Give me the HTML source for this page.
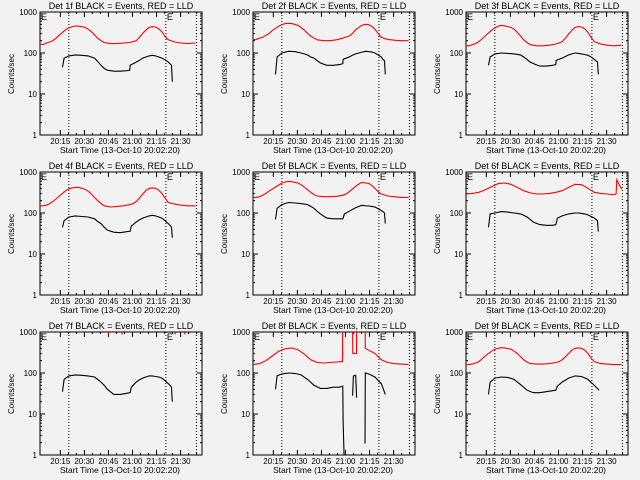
<!DOCTYPE html>
<html><head><meta charset="utf-8"><style>
html,body{margin:0;padding:0;background:#f2f2f2;}
svg{display:block;font-family:"Liberation Sans",sans-serif;}
</style></head><body>
<svg id="chart" width="640" height="480" viewBox="0 0 640 480">
<rect width="640" height="480" fill="#f2f2f2"/>
</svg>
<script>
const detNames = ["1f","2f","3f","4f","5f","6f","7f","8f","9f"];
const xTickLabels = ["20:15","20:30","20:45","21:00","21:15","21:30"];
const xTickMinutes = [12.67,27.67,42.67,57.67,72.67,87.67];
const yTickLabels = ["1","10","100","1000"];
const yTickValues = [1,10,100,1000];
const dottedMinutes = [18,78.5,97.5];
const redT = [0,2,4,6,8,10,12,14,16,18,20,22,24,26,28,30,32,34,36,38,40,44,48,52,56,58,60,62,64,66,68,70,72,74,76,78,80,84,88,92,97];
const blackT = [14,15,18,22,26,30,34,36,38,40,42,46,50,54,56,56.2,57,60,62,64,66,68,70,72,74,76,78,80,81,82,82.5];
const red1 = [165,160,175,185,200,230,270,320,370,410,440,455,450,440,420,380,330,280,230,200,180,170,170,175,180,190,200,240,300,360,420,440,430,390,330,250,210,185,175,170,175];
const black1 = [45,75,85,90,88,85,75,62,50,42,38,36,36,37,38,50,52,60,66,75,80,85,88,85,80,75,68,60,55,50,20];
const red2 = [210,215,230,240,270,300,350,400,450,490,520,530,520,500,470,420,360,300,260,230,210,200,200,210,230,245,260,300,370,420,480,500,490,450,380,300,240,215,205,200,200];
const black2 = [30,80,100,110,108,100,90,80,75,65,57,50,50,52,55,70,72,80,88,95,100,105,110,108,105,100,90,80,70,65,30];
const red3 = [150,150,160,170,190,220,260,310,360,410,450,470,460,440,420,380,320,260,210,180,160,150,150,155,165,175,190,230,290,360,420,440,430,390,320,240,190,165,155,150,155];
const black3 = [50,80,95,100,98,95,90,80,70,60,55,48,48,50,52,65,68,75,82,90,95,100,98,95,92,88,80,70,65,60,30];
const red4 = [150,150,155,170,190,220,260,300,350,390,410,420,420,400,380,340,290,240,200,170,150,140,145,150,160,170,190,230,290,350,400,410,400,360,300,230,180,165,155,150,150];
const black4 = [45,65,80,85,82,80,72,62,55,45,38,34,33,35,36,36,48,60,68,75,80,85,88,85,80,75,65,55,50,45,25];
const red5 = [240,240,250,270,300,340,380,430,480,540,570,590,580,560,540,490,430,370,320,280,260,250,250,255,270,290,330,380,450,510,560,540,530,470,400,330,290,260,250,240,240];
const black5 = [70,130,160,180,175,170,160,145,130,110,95,75,72,72,72,75,95,110,122,135,145,155,150,148,145,140,128,115,108,100,55];
const red6T = [0,4,8,12,16,20,24,28,32,36,40,44,48,52,56,60,64,68,72,76,80,84,88,92,93.6,94,97];
const red6 = [290,300,320,370,440,520,540,500,420,350,310,290,290,300,320,350,420,500,490,400,320,300,290,280,290,650,380];
const black6 = [45,95,100,108,105,100,95,88,80,70,60,52,50,50,52,55,75,85,90,95,98,100,100,98,95,90,82,75,70,65,35];
const red7T = [42.5,42.7,42.9,null,48,48.2,48.4,null,51,51.2,51.4,null,84,84.2,84.4,null,90,90.2,90.4];
const red7 = [1500,880,1500,null,1500,950,1500,null,1500,870,1500,null,1500,880,1500,null,1500,880,1500];
const black7 = [35,70,85,90,88,85,80,70,60,50,40,30,30,32,33,33,45,60,68,75,80,85,85,82,80,75,65,55,50,45,20];
const red8T = [0,4,8,12,16,20,24,28,32,36,40,44,48,52,55.8,56,62,62.2,64.5,64.7,69.8,70,72,76,80,84,88,92,97];
const red8 = [160,170,200,260,340,390,410,370,290,210,180,175,180,185,190,5000,5000,300,300,5000,5000,400,360,300,210,180,170,165,160];
const black8T = [14,15,18,22,26,30,34,38,42,46,50,54,56,56.2,57,null,62.1,62.6,64,64.6,null,69.8,70,72,76,80,82.5];
const black8 = [40,85,95,100,98,90,70,50,42,42,45,45,48,7,0.5,null,28,85,88,25,null,1.9,100,95,80,55,30];
const red9 = [160,160,165,175,190,220,260,300,340,380,400,415,410,395,380,340,300,250,210,185,170,165,165,170,180,190,210,250,300,360,400,410,400,360,300,230,190,170,165,160,160];
const black9T = [14,15,18,22,26,30,34,38,42,46,50,54,56,57,60,64,68,72,76,80,83];
const black9 = [30,60,75,80,78,70,52,38,33,33,35,37,38,48,60,75,85,82,70,50,38];

const panels = [
 {rt:redT,rv:red1,bt:blackT,bv:black1},{rt:redT,rv:red2,bt:blackT,bv:black2},{rt:redT,rv:red3,bt:blackT,bv:black3},
 {rt:redT,rv:red4,bt:blackT,bv:black4},{rt:redT,rv:red5,bt:blackT,bv:black5},{rt:red6T,rv:red6,bt:blackT,bv:black6},
 {rt:red7T,rv:red7,bt:blackT,bv:black7},{rt:red8T,rv:red8,bt:black8T,bv:black8},{rt:redT,rv:red9,bt:black9T,bv:black9}
];
const NS="http://www.w3.org/2000/svg";
const svg=document.getElementById('chart');
function mk(tag,attrs,parent){const e=document.createElementNS(NS,tag);for(const k in attrs)e.setAttribute(k,attrs[k]);parent.appendChild(e);return e;}
const BX0=40,BX1=202,BY0=12,BY1=135,TMAX=101;
function xs(t){return BX0+(t/TMAX)*(BX1-BX0);}
function ys(v){return BY1-(Math.log10(v)/3)*(BY1-BY0);}
function pathFor(T,V){let d="",pen=false;for(let i=0;i<T.length;i++){if(T[i]===null||V[i]===null){pen=false;continue;}
 const x=xs(T[i]).toFixed(1),y=ys(Math.max(V[i],0.1)).toFixed(1);d+=(pen?"L":"M")+x+" "+y+" ";pen=true;}return d;}
panels.forEach((p,i)=>{
 const ox=(i%3)*213, oy=Math.floor(i/3)*160;
 const g=mk('g',{transform:`translate(${ox},${oy})`},svg);
 
 
 const cid='clip'+i;
 const cp=mk('clipPath',{id:cid},g);mk('rect',{x:BX0,y:BY0,width:BX1-BX0,height:BY1-BY0},cp);
 const title=mk('text',{x:121,y:9,'text-anchor':'middle','font-size':'9'},g);title.textContent='Det '+detNames[i]+' BLACK = Events, RED = LLD';
 
 
 const yl=mk('text',{x:0,y:0,transform:'translate(14,74) rotate(-90)','text-anchor':'middle','font-size':'8'},g);yl.textContent='Counts/sec';
 
 
 const xl=mk('text',{x:120,y:153,'text-anchor':'middle','font-size':'8.5'},g);xl.textContent='Start Time (13-Oct-10 20:02:20)';
 
 
 dottedMinutes.forEach(t=>{const l=mk('line',{x1:xs(t),x2:xs(t),y1:BY0,y2:BY1,stroke:'#000','stroke-width':1,'stroke-dasharray':'1,2'},g);
  
  });
 [xs(0)+1,xs(dottedMinutes[1])+1].forEach(x=>{const e=mk('text',{x:x,y:BY0+8,'font-size':'9'},g);e.textContent='E';
  
  });
 const box=mk('rect',{x:BX0,y:BY0,width:BX1-BX0,height:BY1-BY0,fill:'none',stroke:'#000','stroke-width':1},g);
 
 
 xTickMinutes.forEach((t,k)=>{const x=xs(t);
  mk('line',{x1:x,x2:x,y1:BY1,y2:BY1-5,stroke:'#000'},g);mk('line',{x1:x,x2:x,y1:BY0,y2:BY0+5,stroke:'#000'},g);
  for(let m=1;m<3;m++){const xm=xs(t+m*5);if(xm<BX1){mk('line',{x1:xm,x2:xm,y1:BY1,y2:BY1-2,stroke:'#000'},g);mk('line',{x1:xm,x2:xm,y1:BY0,y2:BY0+2,stroke:'#000'},g);}}
  const tl=mk('text',{x:x,y:144,'text-anchor':'middle','font-size':'8'},g);tl.textContent=xTickLabels[k];
  
  });
 yTickValues.forEach((v,k)=>{const y=ys(v);
  mk('line',{x1:BX0,x2:BX0+5,y1:y,y2:y,stroke:'#000'},g);mk('line',{x1:BX1,x2:BX1-5,y1:y,y2:y,stroke:'#000'},g);
  if(v<1000)for(let m=2;m<10;m++){const ym=ys(v*m);mk('line',{x1:BX0,x2:BX0+2,y1:ym,y2:ym,stroke:'#000'},g);mk('line',{x1:BX1,x2:BX1-2,y1:ym,y2:ym,stroke:'#000'},g);}
  const tl=mk('text',{x:37,y:y+3,'text-anchor':'end','font-size':'8'},g);tl.textContent=yTickLabels[k];
  
  });
 const rp=mk('path',{d:pathFor(p.rt,p.rv),fill:'none',stroke:'#ff0000','stroke-width':1.1,'clip-path':`url(#${cid})`},g);
 
 
 const bp=mk('path',{d:pathFor(p.bt,p.bv),fill:'none',stroke:'#000','stroke-width':1.1,'clip-path':`url(#${cid})`},g);
 
 
});
</script>
</body></html>
